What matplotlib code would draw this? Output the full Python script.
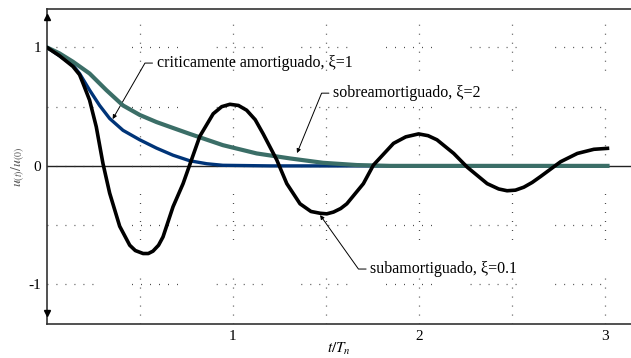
import matplotlib.pyplot as plt
import numpy as np

plt.rcParams['font.family'] = ['Liberation Serif', 'DejaVu Serif']
plt.rcParams['mathtext.fontset'] = 'stix'

# valores (t/Tn , u(t)/u(0))
t_sub = [0, 0.067, 0.139, 0.175, 0.193, 0.229, 0.265, 0.301, 0.337, 0.391, 0.445,
         0.475, 0.517, 0.545, 0.570, 0.600, 0.624, 0.678, 0.732, 0.777, 0.822,
         0.894, 0.940, 0.984, 1.030, 1.074, 1.120, 1.163, 1.236, 1.290, 1.361,
         1.420, 1.469, 1.505, 1.541, 1.580, 1.613, 1.702, 1.756, 1.864, 1.930,
         1.999, 2.050, 2.098, 2.188, 2.260, 2.368, 2.430, 2.475, 2.520, 2.565,
         2.610, 2.655, 2.763, 2.853, 2.942, 3.015]
u_sub = [1, 0.93, 0.84, 0.77, 0.70, 0.555, 0.33, 0.02, -0.23, -0.51, -0.67,
         -0.715, -0.74, -0.74, -0.72, -0.67, -0.60, -0.345, -0.15, 0.05, 0.25,
         0.44, 0.50, 0.52, 0.51, 0.47, 0.39, 0.27, 0.05, -0.15, -0.32,
         -0.385, -0.40, -0.405, -0.39, -0.36, -0.32, -0.15, 0.007, 0.19, 0.245,
         0.27, 0.255, 0.22, 0.105, -0.01, -0.15, -0.195, -0.21, -0.205, -0.18,
         -0.14, -0.09, 0.035, 0.105, 0.14, 0.148]

t_crit = [0, 0.067, 0.139, 0.175, 0.229, 0.283, 0.337, 0.409, 0.499, 0.589,
          0.678, 0.768, 0.860, 0.946, 1.2, 3.015]
u_crit = [1, 0.93, 0.85, 0.78, 0.64, 0.51, 0.40, 0.30, 0.22, 0.15,
          0.09, 0.043, 0.018, 0.005, 0, 0]

t_sobre = [0, 0.067, 0.139, 0.229, 0.319, 0.409, 0.499, 0.589, 0.678, 0.768,
           0.946, 1.128, 1.307, 1.485, 1.667, 1.846, 3.015]
u_sobre = [1, 0.95, 0.88, 0.78, 0.64, 0.51, 0.43, 0.37, 0.32, 0.27,
           0.175, 0.105, 0.063, 0.026, 0.007, 0, 0]

fig = plt.figure(figsize=(6.31, 3.58), dpi=100)
ax = fig.add_axes([0.0745, 0.095, 0.925, 0.88])

# rejilla punteada
puntos = (0, (0.7, 6.5, 0.7, 6.5, 0.7, 6.5, 0.7, 6.5, 0.7, 6.5, 0.7, 31))
ax.set_xticks([1, 2, 3])
ax.set_xticks([0.5, 1.5, 2.5], minor=True)
ax.set_yticks([-1, 0, 1])
ax.set_yticks([-0.5, 0.5], minor=True)
ax.grid(True, which='both', color='#333333', lw=0.9, linestyle=puntos)
ax.tick_params(which='both', length=0, labelsize=11, pad=4)
ax.set_xticklabels(['1', '2', '3'])
ax.set_yticklabels(['-1', '0', '1'])

ax.axhline(0, color='#222222', lw=1.0, zorder=1)

ax.plot(t_crit, u_crit, color='#003478', lw=2.4, zorder=3)
ax.plot(t_sobre, u_sobre, color='#3b6e67', lw=3.0, zorder=4)
ax.plot(t_sub, u_sub, color='black', lw=2.6, zorder=5)

ax.set_xlim(0, 3.14)
ax.set_ylim(-1.335, 1.325)

for lado in ['left', 'bottom', 'top']:
    ax.spines[lado].set_color('#333333')
    ax.spines[lado].set_linewidth(1.2)
ax.spines['right'].set_visible(False)

# flechas del eje vertical
ax.plot([0], [1.255], marker='^', color='black', ms=5, clip_on=False, zorder=6)
ax.plot([0], [-1.245], marker='v', color='black', ms=5, clip_on=False, zorder=6)

flecha = dict(arrowstyle='-|>', color='black', lw=0.7, mutation_scale=6,
              shrinkA=1, shrinkB=0)
ax.annotate('criticamente amortiguado, ξ=1', xy=(0.353, 0.395), xytext=(0.590, 0.868),
            ha='left', va='center', fontsize=11.5,
            arrowprops=dict(flecha, connectionstyle='angle,angleA=0,angleB=60,rad=0'))
ax.annotate('sobreamortiguado, ξ=2', xy=(1.345, 0.108), xytext=(1.539, 0.614),
            ha='left', va='center', fontsize=11.5,
            arrowprops=dict(flecha, connectionstyle='angle,angleA=0,angleB=67.7,rad=0'))
ax.annotate('subamortiguado, ξ=0.1', xy=(1.469, -0.415), xytext=(1.739, -0.871),
            ha='left', va='center', fontsize=11.5,
            arrowprops=dict(flecha, connectionstyle='angle,angleA=0,angleB=-54.6,rad=0'))

ax.set_xlabel(r'$t/T_n$', fontsize=11, va='center')
ax.xaxis.set_label_coords(0.5, -0.08)
ax.set_ylabel(r'$u_{(t)}/u_{(0)}$', fontsize=10, color='#555555', va='center')
ax.yaxis.set_label_coords(-0.05, 0.5)

fig.savefig('out.png', dpi=100)
